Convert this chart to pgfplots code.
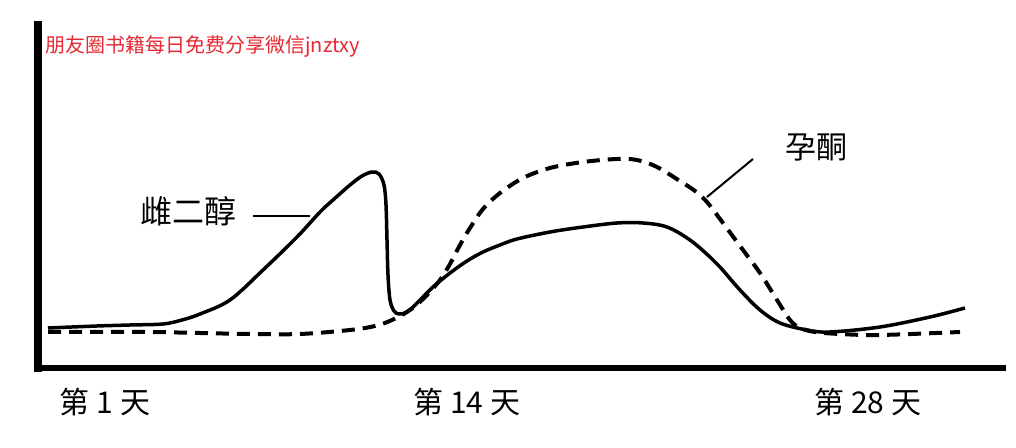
\documentclass[border=0pt]{standalone}
\usepackage{fontspec}
\setmainfont{Noto Sans CJK SC}
\usepackage{pgfplots}
\pgfplotsset{compat=1.18}
\begin{document}
\begin{tikzpicture}
\begin{axis}[
  at={(0,0)}, anchor=origin,
  scale only axis,
  width=482.75pt, height=171.5pt,
  xmin=37.5, xmax=1003, ymin=80, ymax=423,
  axis x line=bottom, axis y line=left,
  x axis line style={-, line width=3pt, line cap=rect},
  y axis line style={-, line width=4pt, line cap=rect},
  xtick=\empty, ytick=\empty,
  clip=false,
]
% bounding box of the whole picture in pixel units
\path (axis cs:0,0) rectangle (axis cs:1016,448);

% estradiol (solid)
\addplot[black, line width=1.75pt, smooth, tension=0.55] coordinates {
(48,120) (97,122) (130,123) (163,124) (182,128) (200,134) (230,148) (263,178) (297,211)
(320,236) (333,248) (350,263) (362,272) (372,276) (379,274) (384,263) (386,243)
(387,208) (388,173) (390,148) (394,137) (399,134) (405,135) (412,140) (422,150)
(433,161) (450,175) (467,187) (483,196) (500,203) (517,209) (550,216) (583,221)
(617,225) (643,225) (667,221) (690,208) (710,191) (720,181) (740,158) (760,138)
(780,125) (807,118) (830,116) (880,121) (930,131) (965,140)
};

% progesterone (dashed)
\addplot[black, line width=2pt, dash pattern=on 6.5pt off 4pt, smooth, tension=0.55] coordinates {
(48,116) (100,116) (150,116) (200,115) (250,114) (300,114) (350,118) (375,122)
(392,128) (410,138) (425,151) (440,168) (450,184) (460,203) (470,220) (483,239)
(500,255) (523,270) (550,280) (583,286) (617,289) (637,288) (657,281) (683,265)
(695,257) (707,246) (720,229) (740,202) (760,175) (777,148) (790,128) (800,120)
(815,116) (840,114) (880,113) (960,116)
};

% leader lines
\draw[black, line width=1pt] (axis cs:253,232) -- (axis cs:310,232);
\draw[black, line width=1pt] (axis cs:753,289) -- (axis cs:707,251);

% labels
\node[font=\fontsize{16}{16}\selectfont] at (axis cs:188,237) {雌二醇};
\node[font=\fontsize{15.5}{16}\selectfont] at (axis cs:816,300) {孕酮};
\node[font=\fontsize{15}{15}\selectfont] at (axis cs:105,46) {第 1 天};
\node[font=\fontsize{15}{15}\selectfont] at (axis cs:467,46) {第 14 天};
\node[font=\fontsize{15}{15}\selectfont] at (axis cs:868,46) {第 28 天};
\node[anchor=west, inner sep=0pt, text={rgb,255:red,230;green,40;blue,50}, font=\fontsize{10}{10}\selectfont] at (axis cs:45,402) {朋友圈书籍每日免费分享微信jnztxy};
\end{axis}
\end{tikzpicture}
\end{document}
